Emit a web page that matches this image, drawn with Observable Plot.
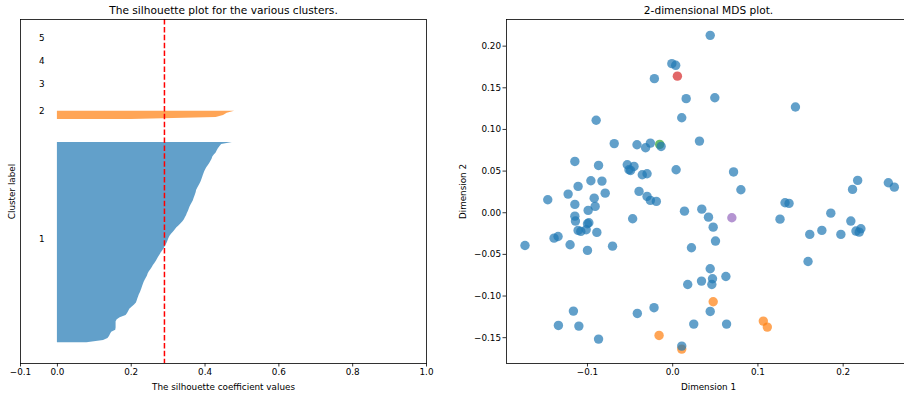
<!DOCTYPE html>
<html><head><meta charset="utf-8">
<script src="https://cdn.jsdelivr.net/npm/d3@7"></script>
<script src="https://cdn.jsdelivr.net/npm/@observablehq/plot@0.6"></script>
<style>
html,body{margin:0;padding:0;background:#fff;overflow:hidden;width:904px;height:397px}
#wrap{display:flex;width:910px;height:397px}
#wrap svg{display:block;flex:none}
</style></head><body><div id="wrap"></div>
<script>
// ---------- data ----------
const clusterIds = [1, 2, 3, 4, 5];
const clusterColors = ["#1f77b4", "#ff7f0e", "#2ca02c", "#d62728", "#9467bd"];

const silhouetteCluster1 = [
  0.08, 0.125, 0.137, 0.141, 0.144, 0.147, 0.158, 0.159, 0.159, 0.159,
  0.159, 0.162, 0.17, 0.186, 0.19, 0.193, 0.196, 0.202, 0.209, 0.214,
  0.216, 0.218, 0.22, 0.222, 0.225, 0.227, 0.229, 0.231, 0.233, 0.235,
  0.238, 0.241, 0.244, 0.246, 0.249, 0.253, 0.257, 0.26, 0.264, 0.268,
  0.271, 0.274, 0.278, 0.281, 0.285, 0.289, 0.292, 0.295, 0.298, 0.3,
  0.302, 0.305, 0.309, 0.314, 0.319, 0.323, 0.329, 0.335, 0.34, 0.344,
  0.347, 0.35, 0.352, 0.355, 0.357, 0.359, 0.362, 0.365, 0.368, 0.37,
  0.372, 0.374, 0.376, 0.377, 0.38, 0.383, 0.386, 0.389, 0.391, 0.393,
  0.395, 0.397, 0.399, 0.402, 0.405, 0.409, 0.413, 0.416, 0.419, 0.421,
  0.425, 0.43, 0.433, 0.436, 0.44, 0.445, 0.474
];
const silhouetteCluster2 = [0.2, 0.43, 0.45, 0.46, 0.48];
const silhouetteCluster3 = [0];
const silhouetteCluster4 = [0];
const silhouetteCluster5 = [0];
const silhouetteAverage = 0.29;
const clusterLabelX = -0.05;
const silhouetteXTicks = [-0.1, 0.0, 0.2, 0.4, 0.6, 0.8, 1.0];

// MDS coordinates (non-blue clusters first so blue is drawn on top)
const mdsDim1 = [
  0.0475, -0.016, 0.1063, 0.111, 0.0106,
  -0.0153,
  0.0055,
  0.0694,
  0.044, -0.001, 0.0035, -0.0215, 0.0158, 0.0494, 0.144, 0.0106, -0.0898, 0.0314,
  -0.0686, -0.0419, -0.0262, -0.0318, -0.0136, -0.1148, -0.087, -0.0533, -0.0454, -0.0513,
  -0.0494, 0.004, 0.0714, -0.0357, -0.0301, -0.096, -0.083, -0.111, 0.08, 0.217,
  0.253, 0.26, 0.211, -0.1227, -0.0792, -0.0395, -0.1466, -0.0921, -0.0301, -0.0262,
  -0.0192, -0.1148, -0.091, -0.0992, -0.1148, -0.1141, -0.0984, -0.1, -0.111, -0.1078,
  -0.1015, -0.089, -0.1345, -0.1392, -0.1204, -0.1733, -0.1, -0.0706, -0.047, 0.0138,
  0.0341, 0.042, 0.0475, 0.0502, 0.022, 0.1318, 0.1365, 0.1259, 0.1855, 0.209,
  0.215, 0.2208, 0.2188, 0.175, 0.1608, 0.1973, 0.1588, 0.044, 0.0624, 0.0467,
  0.0338, 0.0459, 0.0176, 0.044, -0.0219, -0.0415, -0.1165, -0.1341, -0.1101, -0.087,
  0.0247, 0.0632, 0.0106
];
const mdsDim2 = [
  -0.1069, -0.1473, -0.1301, -0.1373, -0.1637,
  0.082,
  0.164,
  -0.006,
  0.213, 0.179, 0.177, 0.161, 0.137, 0.138, 0.127, 0.114, 0.111, 0.086,
  0.083, 0.0816, 0.0836, 0.078, 0.0796, 0.0616, 0.0568, 0.0576, 0.0556, 0.0516,
  0.0508, 0.0516, 0.049, 0.0456, 0.0468, 0.0384, 0.038, 0.0316, 0.0276, 0.0388,
  0.036, 0.0307, 0.028, 0.0224, 0.0235, 0.0256, 0.0156, 0.0175, 0.0196, 0.0148,
  0.0136, 0.01, 0.0076, 0.0028, -0.0041, -0.01, -0.012, -0.0132, -0.0212, -0.0224,
  -0.0204, -0.0236, -0.0285, -0.0305, -0.0384, -0.0393, -0.0452, -0.0401, -0.0072, 0.0019,
  0.0043, -0.0053, -0.0173, -0.034, -0.042, 0.012, 0.0112, -0.0077, -0.0005, -0.01,
  -0.022, -0.0192, -0.0233, -0.0212, -0.026, -0.026, -0.0585, -0.0672, -0.0765, -0.0793,
  -0.0821, -0.0861, -0.0861, -0.1185, -0.114, -0.1209, -0.1181, -0.1353, -0.1361, -0.1517,
  -0.1337, -0.1337, -0.1601
];
const mdsCluster = [
  2, 2, 2, 2, 2,
  3,
  4,
  5,
  ...Array(mdsDim1.length - 8).fill(1)
];
const mdsXTicks = [-0.1, 0.0, 0.1, 0.2];
const mdsYTicks = [-0.15, -0.10, -0.05, 0.00, 0.05, 0.10, 0.15, 0.20];

// ---------- build silhouette rows (as in the sklearn example) ----------
const silhouetteByCluster = [silhouetteCluster1, silhouetteCluster2, silhouetteCluster3, silhouetteCluster4, silhouetteCluster5];
const silRows = [];
const labelRows = [];
let yLower = 10;
silhouetteByCluster.forEach((vals, i) => {
  const sorted = vals.slice().sort((a, b) => a - b);
  sorted.forEach((s, j) => silRows.push({cluster: clusterIds[i], y: yLower + j, s}));
  labelRows.push({label: String(clusterIds[i]), x: clusterLabelX, y: yLower + 0.5 * sorted.length});
  yLower += sorted.length + 10;
});
const nSamples = silhouetteByCluster.reduce((a, v) => a + v.length, 0);
const yTop = nSamples + (clusterIds.length + 1) * 10;

const mdsRows = mdsDim1.map((d, i) => ({d1: d, d2: mdsDim2[i], cluster: mdsCluster[i]}));

const font = "DejaVu Sans, sans-serif";
const baseStyle = {fontFamily: font, fontSize: "8.8px", color: "black", background: "white", overflow: "visible"};
const colorScale = {domain: clusterIds, range: clusterColors};

// ---------- left: silhouette ----------
const left = Plot.plot({
  width: 450, height: 397,
  marginLeft: 20, marginRight: 24, marginTop: 19, marginBottom: 34,
  style: baseStyle,
  x: {domain: [-0.1, 1.0]},
  y: {domain: [0, yTop], axis: null},
  color: colorScale,
  marks: [
    Plot.areaX(silRows, {y: "y", x1: 0, x2: "s", z: "cluster", fill: "cluster", fillOpacity: 0.7, curve: "linear"}),
    Plot.text(labelRows, {x: "x", y: "y", text: "label", textAnchor: "start", lineAnchor: "bottom", fontSize: 8.8, fill: "black"}),
    Plot.ruleX([silhouetteAverage], {stroke: "red", strokeWidth: 1.5, strokeDasharray: "5.5,2.4"}),
    Plot.frame({stroke: "black", strokeWidth: 0.8}),
    Plot.axisX({ticks: silhouetteXTicks, tickFormat: d3.format(".1f"), tickSize: 3.5, tickPadding: 2, label: null, strokeWidth: 0.8}),
    Plot.text(["The silhouette coefficient values"], {frameAnchor: "bottom", lineAnchor: "middle", textAnchor: "middle", dy: 23.5, fontSize: 8.8, fill: "black"}),
    Plot.text(["Cluster label"], {frameAnchor: "left", rotate: -90, textAnchor: "middle", lineAnchor: "middle", dx: -8, fontSize: 8.8, fill: "black"}),
    Plot.text(["The silhouette plot for the various clusters."], {frameAnchor: "top", lineAnchor: "middle", textAnchor: "middle", dy: -9, fontSize: 10.6, fill: "black"})
  ]
});

// ---------- right: MDS scatter ----------
const right = Plot.plot({
  width: 460, height: 397,
  marginLeft: 56, marginRight: 0, marginTop: 19, marginBottom: 34,
  style: baseStyle,
  x: {domain: [-0.195, 0.279]},
  y: {domain: [-0.181, 0.232]},
  color: colorScale,
  marks: [
    Plot.dot(mdsRows, {x: "d1", y: "d2", fill: "cluster", fillOpacity: 0.7, r: 4.7, stroke: null}),
    Plot.frame({stroke: "black", strokeWidth: 0.8}),
    Plot.axisX({ticks: mdsXTicks, tickFormat: d3.format(".1f"), tickSize: 3.5, tickPadding: 2, label: null, strokeWidth: 0.8}),
    Plot.axisY({ticks: mdsYTicks, tickFormat: d3.format(".2f"), tickSize: 3.5, tickPadding: 2, label: null, strokeWidth: 0.8}),
    Plot.text(["Dimension 1"], {frameAnchor: "bottom", lineAnchor: "middle", textAnchor: "middle", dy: 23.5, fontSize: 8.8, fill: "black"}),
    Plot.text(["Dimension 2"], {frameAnchor: "left", rotate: -90, textAnchor: "middle", lineAnchor: "middle", dx: -43.5, fontSize: 8.8, fill: "black"}),
    Plot.text(["2-dimensional MDS plot."], {frameAnchor: "top", lineAnchor: "middle", textAnchor: "middle", dy: -9, fontSize: 10.6, fill: "black"})
  ]
});

const wrap = document.getElementById("wrap");
wrap.appendChild(left);
wrap.appendChild(right);
</script>
</body></html>
